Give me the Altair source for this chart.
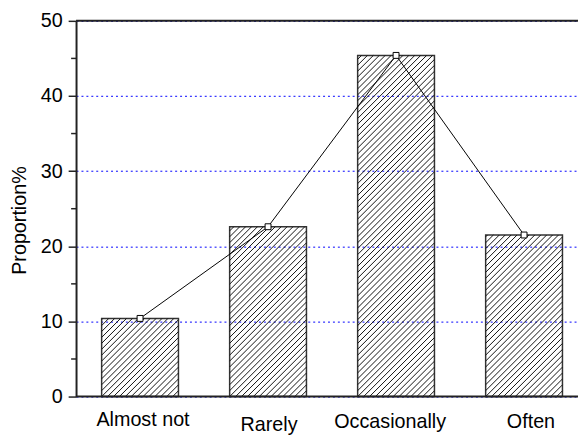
import math
import altair as alt
import pandas as pd

# ---- data ----
categories = ["Almost not", "Rarely", "Occasionally", "Often"]
proportions = [10.4, 22.6, 45.4, 21.5]
y_ticks = [0, 10, 20, 30, 40, 50]
y_minor = [5, 15, 25, 35, 45]

# ---- layout / style ----
W, H = 509, 381
STEP = 129.8              # px per category slot
X0 = -0.5
X1 = X0 + W / STEP
Y_MAX = 50
BAR_HALF = 0.3
HATCH = 6.0               # horizontal spacing of hatch lines (px)
FONT = "Liberation Sans"
DARK = "#222222"
label_nudge = {           # (dx, dy) per tick label, as in the reference
    "Almost not": (3, 30),
    "Rarely": (1, 35),
    "Occasionally": (-6, 32),
    "Often": (7, 32),
}

kx = STEP
ky = H / Y_MAX

idx = list(range(len(categories)))
bars = pd.DataFrame({"cat": categories, "i": idx, "v": proportions})
bars["x0"] = bars["i"] - BAR_HALF
bars["x1"] = bars["i"] + BAR_HALF

# hatch segments (45 deg "/" lines) clipped to each bar, derived from the bar values
segs = []
for i, v in zip(idx, proportions):
    bw = 2 * BAR_HALF * kx
    bh = v * ky
    k0 = math.ceil(-bh / HATCH)
    k1 = math.floor(bw / HATCH)
    for k in range(k0, k1 + 1):
        c = k * HATCH
        u0, w0 = (c, 0.0) if c >= 0 else (0.0, -c)
        u1 = min(bw, bh + c)
        w1 = u1 - c
        if u1 - u0 < 0.8:
            continue
        segs.append({
            "x": i - BAR_HALF + u0 / kx, "y": w0 / ky,
            "x2": i - BAR_HALF + u1 / kx, "y2": w1 / ky,
        })
hatch = pd.DataFrame(segs)

xscale = alt.Scale(domain=[X0, X1], nice=False, zero=False)
yscale = alt.Scale(domain=[0, Y_MAX], nice=False)
yaxis = alt.Axis(
    values=y_ticks, title="Proportion%",
    titleFont=FONT, titleFontSize=20, titleFontWeight="normal", titleColor="black",
    titleAngle=270, titleAlign="center", titleBaseline="bottom", titleX=-47, titleY=202,
    labelFont=FONT, labelFontSize=20, labelColor="black", labelPadding=6,
    tickSize=8, tickWidth=1.5, tickColor=DARK,
    domainColor=DARK, domainWidth=2,
    grid=True, gridColor="#0000ff", gridDash=[2, 3], gridWidth=1, gridOpacity=1,
)

def Y(field):
    return alt.Y(field, scale=yscale, axis=yaxis)

def X(field):
    return alt.X(field, scale=xscale, axis=None)

hatch_layer = alt.Chart(hatch).mark_rule(color="#111111", strokeWidth=1).encode(
    x=X("x:Q"), y=Y("y:Q"), x2="x2:Q", y2="y2:Q"
)

bar_layer = alt.Chart(bars).mark_rect(fill="transparent", stroke="#333333", strokeWidth=1.5).encode(
    x=X("x0:Q"), x2="x1:Q", y=Y("v:Q"), y2=alt.datum(0)
)

line_layer = alt.Chart(bars).mark_line(color="black", strokeWidth=1).encode(
    x=X("i:Q"), y=Y("v:Q")
)

point_layer = alt.Chart(bars).mark_point(
    shape="square", size=36, filled=True, fill="white", stroke="black", strokeWidth=1, opacity=1
).encode(x=X("i:Q"), y=Y("v:Q"))

minor = pd.DataFrame({"m": y_minor})
minor_layer = alt.Chart(minor).mark_rule(color=DARK, strokeWidth=1.5).encode(
    y=Y("m:Q"), x=alt.value(-5), x2=alt.value(0)
)

frame = pd.DataFrame({"b": [0, Y_MAX]})
frame_layer = alt.Chart(frame).mark_rule(color=DARK, strokeWidth=2).encode(y=Y("b:Q"))

text_layers = []
for i, c in zip(idx, categories):
    dx, dy = label_nudge[c]
    t = alt.Chart(pd.DataFrame({"cat": [c], "i": [i]})).mark_text(
        font=FONT, fontSize=20, color="black", align="center", baseline="alphabetic",
        dx=dx, dy=dy,
    ).encode(x=X("i:Q"), y=alt.value(H), text="cat:N")
    text_layers.append(t)

chart = alt.layer(
    bar_layer, hatch_layer, line_layer, point_layer, minor_layer, frame_layer, *text_layers
).properties(
    width=W, height=H,
    autosize=alt.AutoSizeParams(type="none"),
    padding={"left": 69, "top": 10, "right": 0, "bottom": 40},
).configure_view(stroke=None)

chart.save("out.html", embed_options={"renderer": "svg", "actions": False})
